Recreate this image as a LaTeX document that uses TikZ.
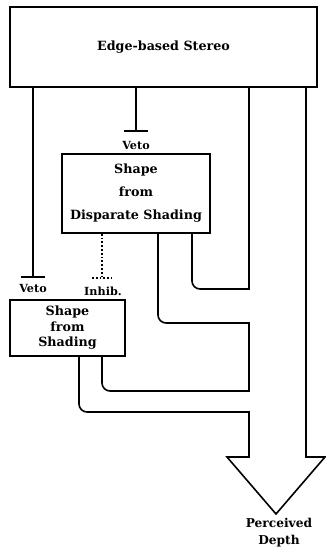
\documentclass[tikz,border=0pt]{standalone}
\usepackage{fontspec}
\setmainfont{DejaVu Serif}
\usepackage{tikz}
\usetikzlibrary{arrows.meta, positioning}

\begin{document}
\begin{tikzpicture}[
    x=1pt, y=-1pt,
    box/.style={rectangle, draw, line width=1.6pt, align=center, inner sep=0pt, font=\fontsize{12.7}{16}\selectfont\bfseries},
    lbl/.style={align=center, inner sep=0pt, font=\fontsize{11.2}{17}\selectfont\bfseries},
    wall/.style={line width=1.6pt},
    veto/.style={wall, -{Bar[width=24pt]}},
    inhib/.style={line width=1.8pt, dotted}
]
    \useasboundingbox (0,0) rectangle (326,550);

    % boxes
    \node[box, minimum width=307pt, minimum height=80pt] (ebs) at (163.5,47) {Edge-based Stereo};
    \node[box, minimum width=148pt, minimum height=79pt, font=\fontsize{12.7}{23}\selectfont\bfseries] (sfds) at (136,193.5) {
        Shape\\
        from\\
        Disparate Shading
    };
    \node[box, minimum width=115pt, minimum height=56pt, font=\fontsize{12.7}{15.5}\selectfont\bfseries] (sfs) at (67.5,328) {
        Shape\\
        from\\
        Shading
    };

    % veto and inhibition
    \coordinate (vt) at (136,132);
    \coordinate (vl) at (33,278);
    \coordinate (ih) at (102,278);
    \draw[veto] (ebs.south -| vt) -- (vt);
    \draw[veto] (ebs.south -| vl) -- (vl);
    \draw[inhib] (sfds.south -| ih) -- (ih);
    \draw[inhib] ([xshift=-10pt]ih) -- ([xshift=10pt]ih);
    \node[lbl] (vtl) at (136,145) {Veto};
    \node[lbl] (vll) at (33,288) {Veto};
    \node[lbl] (ihl) at (103,291) {Inhib.};

    % channels into depth
    \coordinate (a1) at (192,289);
    \coordinate (a2) at (249,289);
    \coordinate (b1) at (158,323);
    \coordinate (b2) at (249,323);
    \coordinate (b3) at (249,391);
    \coordinate (b4) at (102,391);
    \coordinate (c1) at (79,412);
    \coordinate (c2) at (249,412);
    \coordinate (c3) at (249,457);
    \coordinate (c4) at (227,457);
    \coordinate (tip) at (276,514);
    \coordinate (c5) at (325,457);
    \coordinate (c6) at (306,457);
    \draw[wall] (sfds.south -| a1) [rounded corners=8pt] -- (a1) [sharp corners] -- (a2) -- (ebs.south -| a2);
    \draw[wall] (sfds.south -| b1) [rounded corners=8pt] -- (b1) [sharp corners] -- (b2) -- (b3) [rounded corners=8pt] -- (b4) -- (sfs.south -| b4);
    \draw[wall] (sfs.south -| c1) [rounded corners=8pt] -- (c1) [sharp corners] -- (c2) -- (c3) -- (c4) -- (tip) -- (c5) -- (c6) -- (ebs.south -| c6);
    \node[lbl, font=\fontsize{12.2}{17}\selectfont\bfseries] (pd) at (279,533) {Perceived\\Depth};
\end{tikzpicture}
\end{document}
